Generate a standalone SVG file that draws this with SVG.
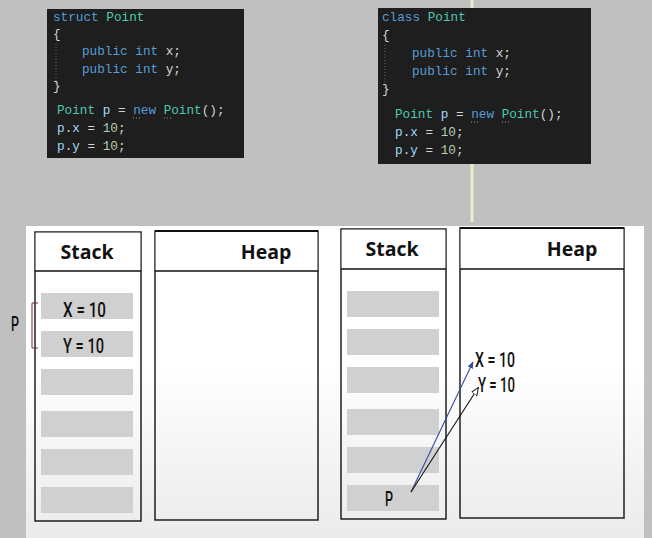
<svg xmlns="http://www.w3.org/2000/svg" width="652" height="538" viewBox="0 0 652 538">
<style>
.code{font-family:"Liberation Mono","DejaVu Sans Mono",monospace;font-size:12.7px;fill:#d4d4d4}
.kw{fill:#569cd6}.ty{fill:#4ec9b0}.vr{fill:#9cdcfe}.nm{fill:#b5cea8}.fn{fill:#dcdcaa}
.box{fill:none;stroke:#111;stroke-width:1.4}
.hdr{font-family:"Open Sans","Liberation Sans",sans-serif;font-weight:bold;font-size:19.5px;fill:#111;text-anchor:middle}
.slot{fill:#d0d0d0}
.val{font-family:Roboto,"Liberation Sans","DejaVu Sans",sans-serif;font-weight:500;font-size:20px;fill:#111}
.guide{stroke:#666;stroke-width:1;stroke-dasharray:1 2}
.sq{stroke:#999;stroke-width:1;stroke-dasharray:1 2}
</style>
<defs>
<linearGradient id="pg" x1="0" y1="0" x2="0" y2="1">
<stop offset="0" stop-color="#ffffff"/>
<stop offset="0.45" stop-color="#ffffff"/>
<stop offset="1" stop-color="#ebebeb"/>
</linearGradient>
<marker id="ab" viewBox="0 0 10 10" refX="9" refY="5" markerWidth="7" markerHeight="7" orient="auto" markerUnits="userSpaceOnUse">
<path d="M0,1 L10,5 L0,9 z" fill="#3b4a9a"/>
</marker>
<marker id="ak" viewBox="0 0 10 10" refX="9" refY="5" markerWidth="8" markerHeight="8" orient="auto" markerUnits="userSpaceOnUse">
<path d="M0,1 L10,5 L0,9 z" fill="#fff" stroke="#111" stroke-width="1.2"/>
</marker>
</defs>
<rect x="0" y="0" width="652" height="538" fill="#c0c0c0"/>
<line x1="472" y1="0" x2="472" y2="222" stroke="#eeeecc" stroke-width="3"/>
<rect x="26" y="226" width="618" height="312" fill="url(#pg)"/>

<g id="code-struct">
<rect x="47" y="9" width="197" height="149" fill="#1e1e1e"/>
<line x1="56" y1="44" x2="56" y2="84" class="guide"/>
<text class="code" x="53" y="21"><tspan class="kw">struct</tspan> <tspan class="ty">Point</tspan></text>
<text class="code" x="53" y="38">{</text>
<text class="code" x="82" y="55"><tspan class="kw">public int</tspan> x;</text>
<text class="code" x="82" y="73"><tspan class="kw">public int</tspan> y;</text>
<text class="code" x="53" y="90">}</text>
<text class="code" x="57" y="114"><tspan class="ty">Point</tspan> <tspan class="vr">p</tspan> = <tspan class="kw">new</tspan> <tspan class="ty">Point</tspan>();</text>
<text class="code" x="57" y="132"><tspan class="vr">p</tspan>.<tspan class="vr">x</tspan> = <tspan class="nm">10</tspan>;</text>
<text class="code" x="57" y="150"><tspan class="vr">p</tspan>.<tspan class="vr">y</tspan> = <tspan class="nm">10</tspan>;</text>
<line x1="133" y1="118" x2="141" y2="118" class="sq"/>
<line x1="164" y1="118" x2="172" y2="118" class="sq"/>
</g>

<g id="code-class">
<rect x="378" y="8" width="213" height="156" fill="#1e1e1e"/>
<line x1="385" y1="45" x2="385" y2="88" class="guide"/>
<text class="code" x="382" y="21"><tspan class="kw">class</tspan> <tspan class="ty">Point</tspan></text>
<text class="code" x="382" y="39">{</text>
<text class="code" x="412" y="57"><tspan class="kw">public int</tspan> x;</text>
<text class="code" x="412" y="75"><tspan class="kw">public int</tspan> y;</text>
<text class="code" x="382" y="93">}</text>
<text class="code" x="395" y="118"><tspan class="ty">Point</tspan> <tspan class="vr">p</tspan> = <tspan class="kw">new</tspan> <tspan class="ty">Point</tspan>();</text>
<text class="code" x="395" y="136"><tspan class="vr">p</tspan>.<tspan class="vr">x</tspan> = <tspan class="nm">10</tspan>;</text>
<text class="code" x="395" y="154"><tspan class="vr">p</tspan>.<tspan class="vr">y</tspan> = <tspan class="nm">10</tspan>;</text>
<line x1="471" y1="122" x2="479" y2="122" class="sq"/>
<line x1="502" y1="122" x2="510" y2="122" class="sq"/>
</g>

<g id="stack-struct">
<rect x="35" y="232" width="106" height="289" fill="none" class="box"/>
<rect x="35.7" y="232.7" width="104.6" height="38" fill="#fff"/>
<line x1="35" y1="271" x2="141" y2="271" stroke="#111" stroke-width="1.4"/>
<text class="hdr" x="87" y="259">Stack</text>
<rect class="slot" x="41" y="293" width="92" height="26"/>
<rect class="slot" x="41" y="331" width="92" height="26"/>
<rect class="slot" x="41" y="369" width="92" height="26"/>
<rect class="slot" x="41" y="411" width="92" height="26"/>
<rect class="slot" x="41" y="449" width="92" height="26"/>
<rect class="slot" x="41" y="487" width="92" height="26"/>
<text class="val" x="63" y="316.5" textLength="43" lengthAdjust="spacingAndGlyphs">X = 10</text>
<text class="val" x="63" y="353" textLength="41" lengthAdjust="spacingAndGlyphs">Y = 10</text>
</g>

<g id="p-label">
<text class="val" x="11" y="331" textLength="8" lengthAdjust="spacingAndGlyphs">P</text>
<path d="M38,303 H32 V348 H38" fill="none" stroke="#7a2a2a" stroke-width="1"/>
</g>

<g id="heap-struct">
<rect x="155" y="231" width="163" height="289" fill="none" class="box"/>
<rect x="155.7" y="231.7" width="161.6" height="39" fill="#fff"/>
<line x1="155" y1="231" x2="318" y2="231" stroke="#111" stroke-width="2.2"/>
<line x1="155" y1="271" x2="318" y2="271" stroke="#111" stroke-width="1.4"/>
<text class="hdr" x="266" y="259">Heap</text>
</g>

<g id="stack-class">
<rect x="341" y="229" width="105" height="290" fill="none" class="box"/>
<rect x="341.7" y="229.7" width="103.6" height="39" fill="#fff"/>
<line x1="341" y1="269" x2="446" y2="269" stroke="#111" stroke-width="1.4"/>
<text class="hdr" x="392" y="256">Stack</text>
<rect class="slot" x="347" y="291" width="92" height="26"/>
<rect class="slot" x="347" y="329" width="92" height="26"/>
<rect class="slot" x="347" y="367" width="92" height="26"/>
<rect class="slot" x="347" y="409" width="92" height="26"/>
<rect class="slot" x="347" y="447" width="92" height="26"/>
<rect class="slot" x="347" y="485" width="92" height="26"/>
<text class="val" x="385" y="506" textLength="8" lengthAdjust="spacingAndGlyphs">P</text>
</g>

<g id="heap-class">
<rect x="460" y="228" width="164" height="290" fill="none" class="box"/>
<rect x="460.7" y="228.7" width="162.6" height="39.6" fill="#fff"/>
<line x1="460" y1="228" x2="624" y2="228" stroke="#111" stroke-width="2.2"/>
<line x1="460" y1="269" x2="624" y2="269" stroke="#111" stroke-width="1.4"/>
<text class="hdr" x="572" y="256">Heap</text>
<text class="val" x="475" y="366.5" textLength="40" lengthAdjust="spacingAndGlyphs">X = 10</text>
<text class="val" x="478" y="392" textLength="37" lengthAdjust="spacingAndGlyphs">Y = 10</text>
</g>

<g id="connectors">
<line x1="411" y1="492" x2="473" y2="362" stroke="#3b4a9a" stroke-width="1.1" marker-end="url(#ab)"/>
<line x1="411" y1="492" x2="478" y2="388" stroke="#111" stroke-width="1.1" marker-end="url(#ak)"/>
</g>
</svg>
